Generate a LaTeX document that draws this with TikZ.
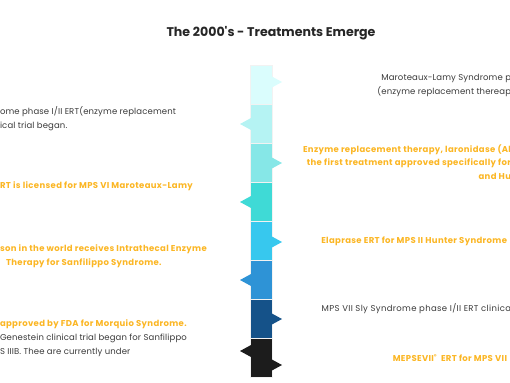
\documentclass[tikz,border=0pt]{standalone}
\usepackage{fontspec}
\setmainfont{Poppins}
\usetikzlibrary{positioning}
\usepackage{xcolor}
\definecolor{segA}{HTML}{DAFDFD}
\definecolor{segB}{HTML}{B5F3F3}
\definecolor{segC}{HTML}{86E7E7}
\definecolor{segD}{HTML}{3FDAD6}
\definecolor{segE}{HTML}{37C8EE}
\definecolor{segF}{HTML}{2E93D6}
\definecolor{segG}{HTML}{155289}
\definecolor{segH}{HTML}{1C1C1C}
\definecolor{gold}{HTML}{FBB624}
\definecolor{ink}{HTML}{3A3A3A}

\begin{document}
\begin{tikzpicture}[x=1pt,y=-1pt]
	\useasboundingbox (0,0) rectangle (510,382);
	\tikzstyle{every node}=[inner sep=0pt, outer sep=0pt, font=\fontsize{8.5}{13.6}\selectfont]
	\tikzstyle{seg}=[minimum width=22pt, minimum height=39pt, draw=white!90!gray, line width=0.5pt]
	\tikzstyle{note}=[text=ink, font=\fontsize{8.5}{13.6}\selectfont\addfontfeatures{LetterSpace=1.5}]
	\tikzstyle{hot}=[text=gold, font=\fontsize{8.5}{13.6}\selectfont\bfseries\addfontfeatures{LetterSpace=4}]

	\draw (271,33) node (title) [font=\fontsize{12.6}{14}\selectfont\bfseries, text=black!85] {The 2000\textquotesingle s - Treatments Emerge};

	% the column
	\draw (261,85) node (s1) [seg, fill=segA] {};
	\node (s2) [seg, fill=segB, below=0pt of s1] {};
	\node (s3) [seg, fill=segC, below=0pt of s2] {};
	\node (s4) [seg, fill=segD, below=0pt of s3] {};
	\node (s5) [seg, fill=segE, below=0pt of s4] {};
	\node (s6) [seg, fill=segF, below=0pt of s5] {};
	\node (s7) [seg, fill=segG, below=0pt of s6] {};
	\node (s8) [seg, fill=segH, below=0pt of s7] {};

	% flags
	\fill[segA] (s1.east) ++(-1,-9) -- ++(11,6) -- ++(-11,6) -- cycle;
	\fill[segB] (s2.west) ++(1,-6) -- ++(-11,6) -- ++(11,6) -- cycle;
	\fill[segC] (s3.east) ++(-1,-6) -- ++(11,6) -- ++(-11,6) -- cycle;
	\fill[segD] (s4.west) ++(1,-6) -- ++(-11,6) -- ++(11,6) -- cycle;
	\fill[segE] (s5.east) ++(-1,-5) -- ++(11,6) -- ++(-11,6) -- cycle;
	\fill[segF] (s6.west) ++(1,-6) -- ++(-11,6) -- ++(11,6) -- cycle;
	\fill[segG] (s7.east) ++(-1,-6) -- ++(11,6) -- ++(-11,6) -- cycle;
	\fill[segH] (s8.west) ++(1,-13) -- ++(-11,6) -- ++(11,6) -- cycle;
	\fill[segH] (s8.east) ++(-1,1) -- ++(11,6) -- ++(-11,6) -- cycle;

	% right side
	\draw (511,74.5) node (r1) [note, anchor=north east, align=right] {Maroteaux-Lamy Syndrome p\\(enzyme replacement thereap};
	\draw (511,144.5) node (r2) [hot, anchor=north east, align=right] {Enzyme replacement therapy, laronidase (Al\\the first treatment approved specifically for\\and Hu};
	\draw (507,241) node (r3) [hot, anchor=east] {Elaprase ERT for MPS II Hunter Syndrome};
	\draw (511,309) node (r4) [note, anchor=east, font=\fontsize{8.5}{13.6}\selectfont\addfontfeatures{LetterSpace=4}] {MPS VII Sly Syndrome phase I/II ERT clinica};
	\draw (507,358) node (r5) [hot, anchor=east] {MEPSEVII\raisebox{2.5pt}{\fontsize{5.5}{6}\selectfont ®}\ \ ERT for MPS VII};

	% left side
	\draw (0,106.5) node (l1) [note, anchor=north west, align=left] {ome phase I/II ERT(enzyme replacement\\ical trial began.};
	\draw (0,186.5) node (l2) [hot, anchor=west] {RT is licensed for MPS VI Maroteaux-Lamy};
	\draw (0,245) node (l3) [hot, anchor=north west, align=left] {son in the world receives Intrathecal Enzyme\\\hspace*{6pt}Therapy for Sanfilippo Syndrome.};
	\draw (0,324.5) node (l4) [hot, anchor=west] {approved by FDA for Morquio Syndrome.};
	\draw (0,334) node (l5) [note, anchor=north west, align=left] {Genestein clinical trial began for Sanfilippo\\S IIIB. Thee are currently under};
\end{tikzpicture}
\end{document}
